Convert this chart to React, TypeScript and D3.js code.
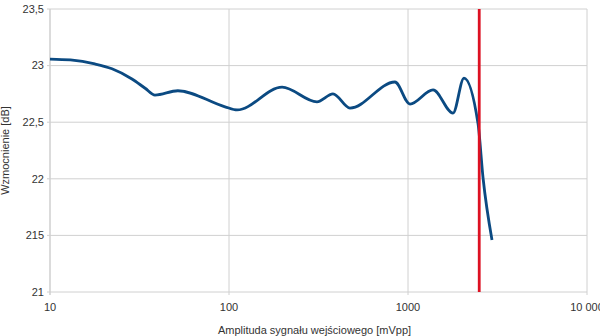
import React from "react";
import * as d3 from "d3";

const amplitude = [10, 13, 17.8, 22.2, 28.7, 34, 38.6, 51.8, 95, 111, 198, 310, 381, 474, 845, 1026, 1380, 1784, 2055, 2460, 2626, 2946];
const gain = [23.058, 23.05, 23.015, 22.972, 22.882, 22.8, 22.74, 22.778, 22.636, 22.608, 22.81, 22.68, 22.75, 22.625, 22.855, 22.66, 22.785, 22.58, 22.89, 22.49, 22.007, 21.46];
const limitX = 2500;
const yTicks = [21, 21.5, 22, 22.5, 23, 23.5];
const yTickLabels = ["21", "215", "22", "22,5", "23", "23,5"];
const xTicks = [10, 100, 1000, 10000];
const xTickLabels = ["10", "100", "1000", "10 000"];

export default function App() {
  const W = 600, H = 336;
  const left = 50, right = 587, top = 9, bottom = 292;
  const x = d3.scaleLog().domain([10, 10000]).range([left, right]);
  const y = d3.scaleLinear().domain([21, 23.5]).range([bottom, top]);
  const pts: [number, number][] = amplitude.map((a, i) => [x(a), y(gain[i])]);
  const line = d3.line().curve(d3.curveMonotoneX)(pts) || "";
  const font = "'Liberation Sans', Arial, sans-serif";
  return (
    <svg width={W} height={H} style={{ position: "absolute", left: 0, top: 0, background: "#fff" }} fontFamily={font}>
      {yTicks.map((t, i) => (
        <g key={"y" + i}>
          <line x1={left - 3} x2={right} y1={y(t)} y2={y(t)} stroke="#d0d0d0" strokeWidth={1} />
          <text x={left - 6} y={y(t)} dy="0.35em" textAnchor="end" fontSize={11} fill="#333">{yTickLabels[i]}</text>
        </g>
      ))}
      {xTicks.map((t, i) => (
        <g key={"x" + i}>
          <line x1={x(t)} x2={x(t)} y1={top} y2={bottom + 3} stroke={i === 0 ? "#cfcfcf" : "#d0d0d0"} strokeWidth={i === 0 ? 1.5 : 1} />
          <text x={x(t)} y={307} dy="0.35em" textAnchor="middle" fontSize={11} fill="#333">{xTickLabels[i]}</text>
        </g>
      ))}
      <path d={line} fill="none" stroke="#0b4a82" strokeWidth={2.8} strokeLinejoin="round" strokeLinecap="butt" />
      <line x1={x(limitX)} x2={x(limitX)} y1={top} y2={bottom} stroke="#dd1122" strokeWidth={2.8} />
      <text x={(left + right) / 2 - 4} y={330} dy="0.35em" textAnchor="middle" fontSize={11} fill="#333">Amplituda sygnału wejściowego [mVpp]</text>
      <text transform={`translate(5,${(top + bottom) / 2}) rotate(-90)`} dy="0.35em" textAnchor="middle" fontSize={11} fill="#333">Wzmocnienie [dB]</text>
    </svg>
  );
}
